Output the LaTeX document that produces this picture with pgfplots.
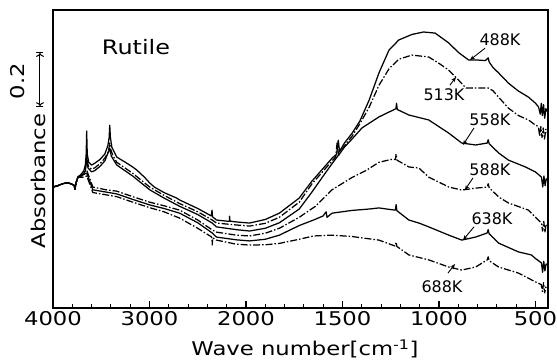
\documentclass[border=0pt]{standalone}
\usepackage{fontspec}
\setmainfont{DejaVu Sans}[FakeStretch=1.2]
\newfontfamily\labfont{DejaVu Sans}
\usepackage{pgfplots}
\usepackage{pgfplotstable}
\pgfplotsset{compat=1.18}
\usetikzlibrary{arrows.meta}

\pgfplotstableread{
wn A
4000 0.440
3950 0.445
3900 0.452
3850 0.456
3800 0.450
3780 0.445
3773 0.432
3762 0.455
3742 0.476
3720 0.482
3700 0.490
3680 0.500
3665 0.520
3656 0.560
3651 0.644
3645 0.560
3630 0.530
3600 0.520
3566 0.527
3514 0.540
3463 0.560
3432 0.590
3418 0.620
3412 0.665
3405 0.620
3390 0.585
3339 0.549
3250 0.530
3174 0.513
3132 0.502
3050 0.475
2998 0.455
2950 0.440
2850 0.420
2719 0.400
2688 0.393
2500 0.362
2360 0.335
2352 0.356
2347 0.332
2306 0.320
2200 0.316
2172 0.316
2170 0.334
2166 0.316
2100 0.313
1982 0.309
1900 0.322
1827 0.345
1724 0.400
1660 0.460
1610 0.500
1554 0.545
1530 0.560
1522 0.610
1515 0.570
1490 0.600
1450 0.636
1410 0.680
1362 0.756
1311 0.855
1259 0.938
1208 0.975
1140 0.995
1080 1.004
1020 1.000
949 0.964
900 0.930
846 0.902
800 0.902
760 0.900
745 0.910
740 0.895
720 0.875
691 0.855
640 0.818
590 0.790
536 0.767
500 0.745
484 0.731
475 0.705
470 0.745
464 0.700
458 0.740
452 0.690
446 0.725
440 0.715
}\tA

\pgfplotstableread{
wn A
4000 0.440
3950 0.445
3900 0.452
3850 0.456
3800 0.450
3780 0.445
3773 0.432
3762 0.455
3742 0.476
3720 0.482
3700 0.486
3665 0.505
3655 0.530
3650 0.567
3644 0.530
3630 0.512
3600 0.505
3566 0.510
3514 0.525
3463 0.545
3425 0.570
3412 0.600
3400 0.575
3380 0.555
3339 0.530
3174 0.490
2998 0.440
2850 0.410
2688 0.380
2500 0.350
2350 0.320
2306 0.309
2100 0.302
1982 0.298
1900 0.308
1827 0.330
1724 0.385
1660 0.450
1610 0.490
1554 0.535
1535 0.550
1528 0.600
1520 0.555
1490 0.590
1450 0.625
1410 0.670
1362 0.730
1311 0.810
1259 0.870
1208 0.905
1140 0.920
1053 0.913
1000 0.890
949 0.865
900 0.830
860 0.800
810 0.800
743 0.800
720 0.790
691 0.767
640 0.727
588 0.700
536 0.684
500 0.665
485 0.660
478 0.625
472 0.660
466 0.620
460 0.655
453 0.615
446 0.650
440 0.640
}\tB

\pgfplotstableread{
wn A
4000 0.440
3950 0.445
3900 0.452
3850 0.456
3800 0.450
3780 0.445
3773 0.432
3762 0.455
3742 0.476
3720 0.482
3700 0.480
3665 0.498
3650 0.550
3638 0.510
3600 0.495
3566 0.500
3514 0.515
3463 0.535
3412 0.580
3395 0.552
3339 0.520
3174 0.480
2998 0.430
2850 0.400
2688 0.370
2500 0.340
2350 0.309
2306 0.295
2100 0.285
1982 0.280
1900 0.290
1827 0.310
1724 0.360
1660 0.420
1600 0.480
1554 0.525
1490 0.585
1450 0.615
1399 0.655
1311 0.695
1223 0.725
1220 0.745
1216 0.722
1156 0.702
1053 0.684
949 0.636
882 0.600
810 0.593
750 0.600
745 0.612
740 0.598
691 0.564
640 0.538
552 0.513
500 0.495
469 0.476
462 0.440
456 0.480
450 0.445
444 0.470
440 0.465
}\tC

\pgfplotstableread{
wn A
4000 0.440
3950 0.445
3900 0.452
3850 0.456
3800 0.450
3780 0.445
3773 0.432
3762 0.455
3742 0.476
3720 0.480
3700 0.486
3670 0.495
3650 0.500
3618 0.470
3587 0.440
3450 0.430
3339 0.425
3174 0.405
2998 0.385
2850 0.372
2688 0.356
2500 0.320
2350 0.284
2306 0.276
2100 0.265
1982 0.262
1900 0.272
1827 0.290
1724 0.330
1640 0.370
1554 0.430
1450 0.475
1378 0.500
1311 0.530
1250 0.540
1226 0.540
1222 0.560
1218 0.538
1156 0.513
1104 0.509
1053 0.476
949 0.440
882 0.429
810 0.436
750 0.440
745 0.452
740 0.438
691 0.404
640 0.382
536 0.356
500 0.330
469 0.309
463 0.280
457 0.315
451 0.275
445 0.305
440 0.300
}\tD

\pgfplotstableread{
wn A
4000 0.440
3950 0.445
3900 0.452
3850 0.456
3800 0.450
3780 0.445
3773 0.432
3762 0.455
3742 0.476
3720 0.478
3700 0.482
3670 0.488
3650 0.490
3618 0.460
3587 0.430
3339 0.415
3174 0.395
2998 0.375
2850 0.362
2688 0.345
2500 0.310
2350 0.273
2306 0.258
2100 0.248
1982 0.244
1900 0.250
1827 0.265
1724 0.300
1650 0.320
1600 0.335
1585 0.350
1580 0.330
1554 0.345
1450 0.355
1362 0.360
1311 0.364
1250 0.358
1226 0.356
1222 0.376
1218 0.354
1156 0.320
1104 0.309
1053 0.295
949 0.265
882 0.247
810 0.258
750 0.273
745 0.285
740 0.270
691 0.236
588 0.204
521 0.193
500 0.180
469 0.164
463 0.130
457 0.170
451 0.135
445 0.160
440 0.158
}\tE

\pgfplotstableread{
wn A
4000 0.440
3950 0.445
3900 0.452
3850 0.456
3800 0.450
3780 0.445
3773 0.432
3762 0.455
3742 0.476
3720 0.476
3700 0.475
3670 0.478
3650 0.480
3618 0.450
3587 0.420
3339 0.405
3174 0.385
2998 0.365
2850 0.350
2688 0.327
2500 0.290
2355 0.258
2350 0.229
2345 0.255
2306 0.247
2100 0.232
1982 0.229
1900 0.230
1827 0.235
1724 0.250
1650 0.262
1554 0.265
1450 0.260
1399 0.255
1311 0.247
1226 0.225
1222 0.240
1218 0.224
1156 0.193
1053 0.175
949 0.149
882 0.138
810 0.149
750 0.175
745 0.186
740 0.172
691 0.149
588 0.127
500 0.095
470 0.085
464 0.060
458 0.092
452 0.055
446 0.080
440 0.076
}\tF

\begin{document}
\begin{tikzpicture}
\useasboundingbox (-53bp,-54bp) rectangle (504bp,308bp);
\begin{axis}[
  at={(0,0)}, anchor=south west,
  scale only axis, width=495bp, height=298bp,
  xmin=0, xmax=5.13, ymin=0, ymax=1.084,
  xtick={0,1,2,3,4,5},
  xticklabels={4000,3000,2000,1500,1000,500},
  minor x tick num=4,
  ytick=\empty,
  tick align=inside, xtick pos=left,
  major tick length=7bp, minor tick length=4bp,
  every tick/.style={black, line width=1.1pt},
  axis line style={line width=1.5pt},
  tick label style={font=\fontsize{19}{22}\selectfont},
  /pgf/number format/assume math mode=true,
  clip=false,
  curve/.style={black, line width=1.25pt, line join=round},
  dd/.style={dash pattern=on 7bp off 2bp on 1.5bp off 2bp},
]
\addplot[curve] table[x expr={ifthenelse(\thisrow{wn}>=2000,(4000-\thisrow{wn})/1000,2+(2000-\thisrow{wn})/500)}, y=A] {\tA};
\addplot[curve,dd] table[x expr={ifthenelse(\thisrow{wn}>=2000,(4000-\thisrow{wn})/1000,2+(2000-\thisrow{wn})/500)}, y=A] {\tB};
\addplot[curve] table[x expr={ifthenelse(\thisrow{wn}>=2000,(4000-\thisrow{wn})/1000,2+(2000-\thisrow{wn})/500)}, y=A] {\tC};
\addplot[curve,dd] table[x expr={ifthenelse(\thisrow{wn}>=2000,(4000-\thisrow{wn})/1000,2+(2000-\thisrow{wn})/500)}, y=A] {\tD};
\addplot[curve] table[x expr={ifthenelse(\thisrow{wn}>=2000,(4000-\thisrow{wn})/1000,2+(2000-\thisrow{wn})/500)}, y=A] {\tE};
\addplot[curve,dd] table[x expr={ifthenelse(\thisrow{wn}>=2000,(4000-\thisrow{wn})/1000,2+(2000-\thisrow{wn})/500)}, y=A] {\tF};

% text
\node[font=\fontsize{20}{22}\selectfont] at (axis cs:0.86,0.949) {Rutile};
\node[font=\fontsize{19}{22}\selectfont, rotate=90] at (axis cs:-0.155,0.462) {Absorbance};
\node[font=\fontsize{19}{22}\selectfont, rotate=90] at (axis cs:-0.363,0.825) {0.2};
\draw[|<->|, line width=1pt] (axis cs:-0.135,0.731) -- (axis cs:-0.135,0.931);
\node[font=\fontsize{19}{22}\selectfont] at (axis cs:2.611,-0.150) {Wave number[cm\textsuperscript{-1}]};

\begin{scope}[every node/.style={font=\labfont\fontsize{16}{18}\selectfont}]
\node at (axis cs:4.632,0.975) {488K};
\node at (axis cs:4.052,0.775) {513K};
\node at (axis cs:4.528,0.684) {558K};
\node at (axis cs:4.528,0.502) {588K};
\node at (axis cs:4.549,0.324) {638K};
\node at (axis cs:4.031,0.076) {688K};
\end{scope}
\begin{scope}[line width=0.9pt, -{Stealth[length=5bp,width=4bp]}]
\draw (axis cs:4.477,0.945) -- (axis cs:4.321,0.902);
\draw (axis cs:4.114,0.811) -- (axis cs:4.176,0.840);
\draw (axis cs:4.363,0.655) -- (axis cs:4.249,0.593);
\draw (axis cs:4.352,0.473) -- (axis cs:4.269,0.429);
\draw (axis cs:4.363,0.295) -- (axis cs:4.249,0.247);
\draw (axis cs:4.093,0.127) -- (axis cs:4.166,0.160);
\end{scope}
\end{axis}
\end{tikzpicture}
\end{document}
